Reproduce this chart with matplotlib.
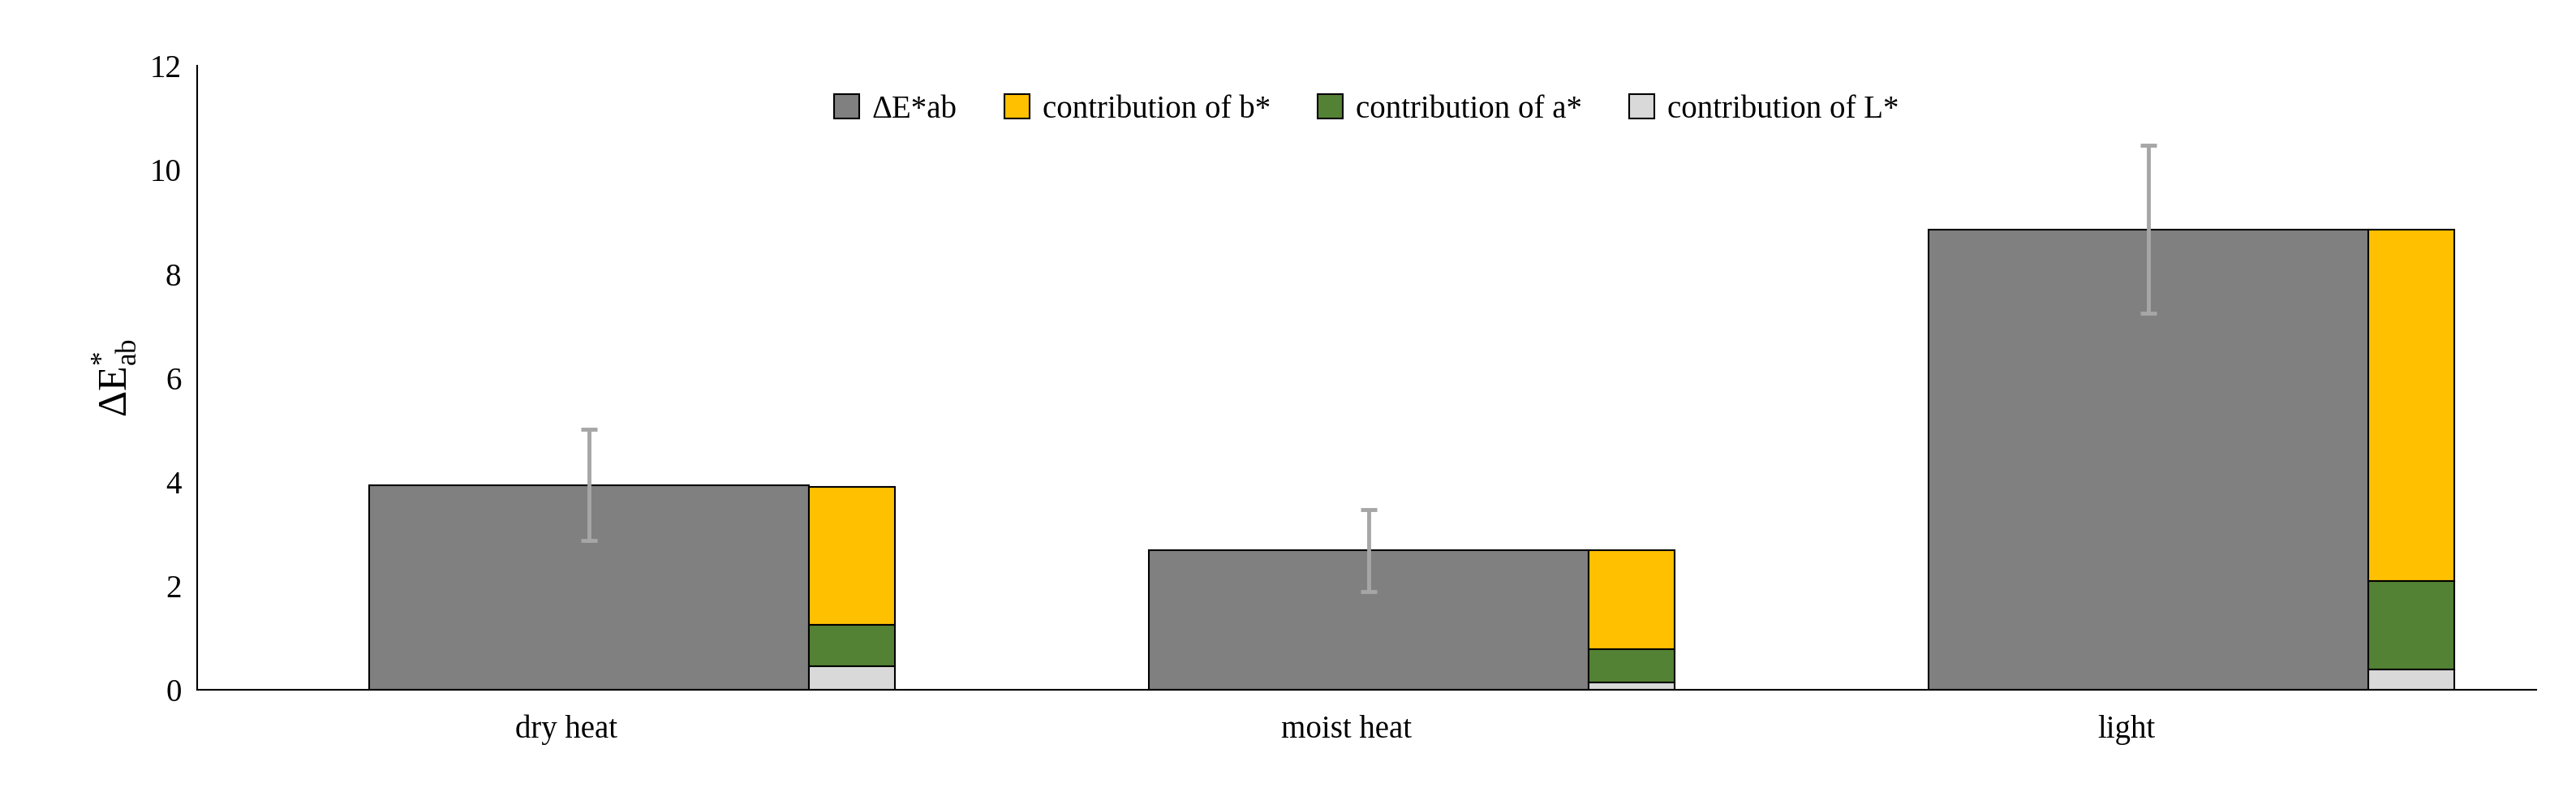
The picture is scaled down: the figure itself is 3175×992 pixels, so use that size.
import matplotlib
matplotlib.use("Agg")
import matplotlib.pyplot as plt
import numpy as np

categories = ["dry heat", "moist heat", "light"]
delta_e = [3.94, 2.68, 8.86]
delta_e_err = [1.07, 0.79, 1.61]
contrib_L = [0.45, 0.15, 0.40]
contrib_a = [0.80, 0.63, 1.70]
contrib_b = [2.65, 1.90, 6.76]
yticks = [0, 2, 4, 6, 8, 10, 12]

plt.rcParams['font.family'] = ['Liberation Serif', 'DejaVu Serif']
plt.rcParams['mathtext.fontset'] = 'custom'
plt.rcParams['mathtext.rm'] = 'Liberation Serif'
plt.rcParams['mathtext.it'] = 'Liberation Serif'

fig = plt.figure(figsize=(31.75, 9.92), dpi=100)
ax = fig.add_axes([0.0765, 0.143, 0.908, 0.775])
x = np.arange(len(categories))
big_w = 0.564
small_w = 0.11
big_c = x - 0.279 + big_w / 2
small_c = x + 0.285 + small_w / 2

ax.bar(big_c, delta_e, width=big_w, color='#808080', edgecolor='black', linewidth=1.5, label='ΔE*ab', zorder=2)
ax.errorbar(big_c, delta_e, yerr=delta_e_err, fmt='none', ecolor='#A6A6A6', elinewidth=3.5, capsize=7, capthick=3.5, zorder=3)
b0 = np.array(contrib_L)
b1 = b0 + np.array(contrib_a)
ax.bar(small_c, contrib_b, width=small_w, bottom=b1, color='#FFC000', edgecolor='black', linewidth=1.5, label='contribution of b*', zorder=2)
ax.bar(small_c, contrib_a, width=small_w, bottom=b0, color='#548235', edgecolor='black', linewidth=1.5, label='contribution of a*', zorder=2)
ax.bar(small_c, contrib_L, width=small_w, color='#D9D9D9', edgecolor='black', linewidth=1.5, label='contribution of L*', zorder=2)

ax.set_xlim(-0.5, 2.5)
ax.set_ylim(0, 12)
ax.set_yticks(yticks)
ax.set_xticks(x - 0.026)
ax.set_xticklabels(categories)
ax.tick_params(axis='both', labelsize=28, length=0)
ax.tick_params(axis='x', pad=22)
ax.tick_params(axis='y', pad=14)
for s in ['top', 'right']:
    ax.spines[s].set_visible(False)
ax.spines['left'].set_color('black')
ax.spines['bottom'].set_color('black')
ax.spines['left'].set_linewidth(1.5)
ax.spines['bottom'].set_linewidth(1.5)
ax.set_ylabel(r'ΔE$^{*}_{\mathrm{ab}}$', fontsize=36, labelpad=10)

ax.legend(loc='upper center', bbox_to_anchor=(0.5, 1.0), ncol=4, frameon=False, fontsize=28,
          handlelength=0.8, handleheight=0.8, columnspacing=1.5, handletextpad=0.4)
fig.savefig('out.png', dpi=100)
